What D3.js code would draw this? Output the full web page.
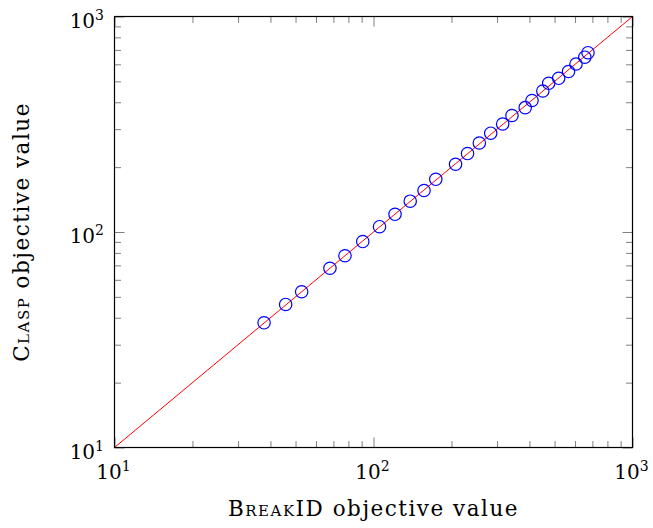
<!DOCTYPE html>
<html><head><meta charset="utf-8">
<script src="https://cdn.jsdelivr.net/npm/d3@7"></script>
<style>
body{margin:0;background:#fff}
svg{display:block}
text{font-family:"DejaVu Serif","Liberation Serif",serif;fill:#000}
</style></head>
<body><svg id="c" width="653" height="528"></svg>
<script>
// BreakID objective value (x) vs Clasp objective value (y)
const breakid = [37.8, 45.8, 52.8, 67.9, 77.6, 90.9, 105.5, 121.1, 138.6, 156.7, 174, 207.4, 230.7, 256.2, 283.5, 315.3, 342.5, 385.2, 409.3, 450.5, 474.7, 518.8, 566.2, 605.2, 654.4, 673.3];
const clasp   = [37.9, 46.1, 52.8, 67.9, 77.6, 90.3, 105.8, 120.8, 139.0, 155.8, 175.6, 206.2, 231.2, 258.8, 287.4, 317.0, 347.2, 377.5, 407.6, 451.1, 489.8, 516.8, 555.7, 602.0, 647.4, 679.2];
const majorTicks = [10, 100, 1000];
const tickExponents = ["1", "2", "3"];
const minorTicks = [20,30,40,50,60,70,80,90,200,300,400,500,600,700,800,900];
const diagonal = [10, 1000];
const xLabel = "BreakID";
const yLabel = "Clasp";

const L = 114.5, R = 632.5, T = 16.5, B = 447.5;
const FS = 20, LFS = 21.5;
const svg = d3.select("#c");
const x = d3.scaleLog().domain([10, 1000]).range([L, R]);
const y = d3.scaleLog().domain([10, 1000]).range([B, T]);

function ticks(axisFn, scale, vals, size, tx, ty) {
  const g = svg.append("g").attr("transform", `translate(${tx},${ty})`)
    .call(axisFn(scale).tickValues(vals).tickSize(-size).tickFormat(""));
  g.select(".domain").remove();
  g.selectAll("line").attr("stroke", "#808080").attr("stroke-width", 1);
}
ticks(d3.axisBottom, x, minorTicks, 6.5, 0, B);
ticks(d3.axisTop, x, minorTicks, 6.5, 0, T);
ticks(d3.axisLeft, y, minorTicks, 6.5, L, 0);
ticks(d3.axisRight, y, minorTicks, 6.5, R, 0);
ticks(d3.axisBottom, x, majorTicks, 10, 0, B);
ticks(d3.axisTop, x, majorTicks, 10, 0, T);
ticks(d3.axisLeft, y, majorTicks, 10, L, 0);
ticks(d3.axisRight, y, majorTicks, 10, R, 0);

// diagonal y = x
svg.append("line")
  .attr("x1", x(diagonal[0])).attr("y1", y(diagonal[0]))
  .attr("x2", x(diagonal[1])).attr("y2", y(diagonal[1]))
  .attr("stroke", "#ff0000").attr("stroke-width", 1);

// points
svg.append("g").selectAll("circle").data(breakid).join("circle")
  .attr("cx", d => x(d)).attr("cy", (d, i) => y(clasp[i]))
  .attr("r", 6.2).attr("fill", "none").attr("stroke", "#0000ff").attr("stroke-width", 1.2);

// frame
svg.append("rect").attr("x", L).attr("y", T).attr("width", R - L).attr("height", B - T)
  .attr("fill", "none").attr("stroke", "#000").attr("stroke-width", 1.2);

function powLabel(sel, exp) {
  sel.append("tspan").text("10");
  sel.append("tspan").attr("dy", -8).attr("font-size", FS * 0.7).text(exp);
}
// x tick labels
majorTicks.forEach((v, i) => {
  const t = svg.append("text").attr("x", x(v) - 1).attr("y", 479).attr("font-size", FS).attr("text-anchor", "middle");
  powLabel(t, tickExponents[i]);
});
// y tick labels
majorTicks.forEach((v, i) => {
  const t = svg.append("text").attr("x", 104).attr("y", y(v) + 11).attr("font-size", FS).attr("text-anchor", "end");
  powLabel(t, tickExponents[i]);
});

// axis labels
const xl = svg.append("text").attr("x", (L + R) / 2).attr("y", 516).attr("font-size", LFS)
  .attr("letter-spacing", 1.5).attr("text-anchor", "middle");
xl.append("tspan").attr("font-variant", "small-caps").text(xLabel);
xl.append("tspan").text(" objective value");

const yl = svg.append("text").attr("transform", `translate(29,${(T + B) / 2}) rotate(-90)`).attr("font-size", LFS)
  .attr("letter-spacing", 1.5).attr("text-anchor", "middle");
yl.append("tspan").attr("font-variant", "small-caps").text(yLabel);
yl.append("tspan").text(" objective value");
</script></body></html>
